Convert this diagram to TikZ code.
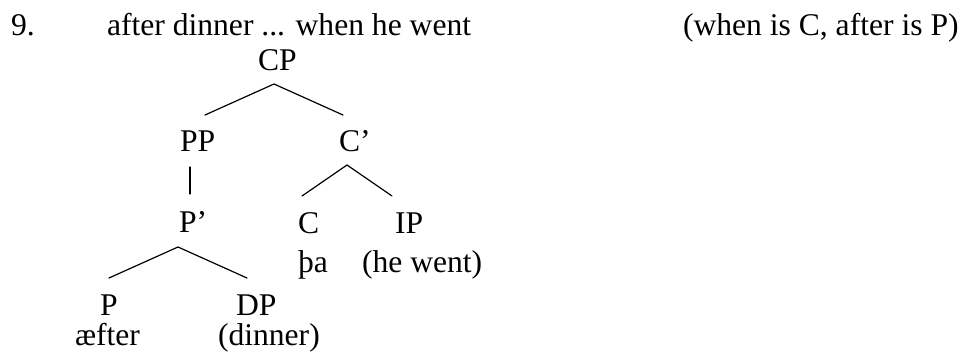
\documentclass[tikz,border=0pt]{standalone}
\usepackage{fontspec}
\setmainfont{Liberation Serif}
\begin{document}
\begin{tikzpicture}[x=1pt,y=-1pt,
  lbl/.style={inner sep=0pt, outer sep=0pt, anchor=base west, font=\fontsize{31.6}{37}\selectfont},
  branch/.style={line width=1.2pt, line cap=round}]
\useasboundingbox (0,0) rectangle (966,356);
% heading
\node[lbl] (num) at (11,35) {9.};
\node[lbl] (title) at (107,35) {after dinner ... when he went};
\node[lbl] (note) at (683,35) {(when is C, after is P)};
% tree labels
\node[lbl] (cp) at (258,70) {CP};
\node[lbl] (pp) at (180,151) {PP};
\node[lbl] (cbar) at (339,151) {C’};
\node[lbl] (pbar) at (179,232) {P’};
\node[lbl] (c) at (298,233) {C};
\node[lbl] (ip) at (395,233) {IP};
\node[lbl] (tha) at (298,272) {þa};
\node[lbl] (hewent) at (362,272) {(he went)};
\node[lbl] (p) at (100,315) {P};
\node[lbl] (dp) at (236,315) {DP};
\node[lbl] (aefter) at (75,345) {æfter};
\node[lbl] (dinner) at (218,345) {(dinner)};
% branch points
\coordinate (cpTop) at (274,84);
\coordinate (ppEnd) at (205,115);
\coordinate (cbarEnd) at (343,115);
\coordinate (ppTop) at (190,167);
\coordinate (pbarEnd) at (190,194);
\coordinate (cbarTop) at (347,165);
\coordinate (cEnd) at (302,196);
\coordinate (ipEnd) at (392,196);
\coordinate (pbarTop) at (178,247);
\coordinate (pEnd) at (109,278);
\coordinate (dpEnd) at (247,278);
% branches
\draw[branch] (ppEnd) -- (cpTop) -- (cbarEnd);
\draw[branch] (ppTop) -- (pbarEnd);
\draw[branch] (cEnd) -- (cbarTop) -- (ipEnd);
\draw[branch] (pEnd) -- (pbarTop) -- (dpEnd);
\end{tikzpicture}
\end{document}
